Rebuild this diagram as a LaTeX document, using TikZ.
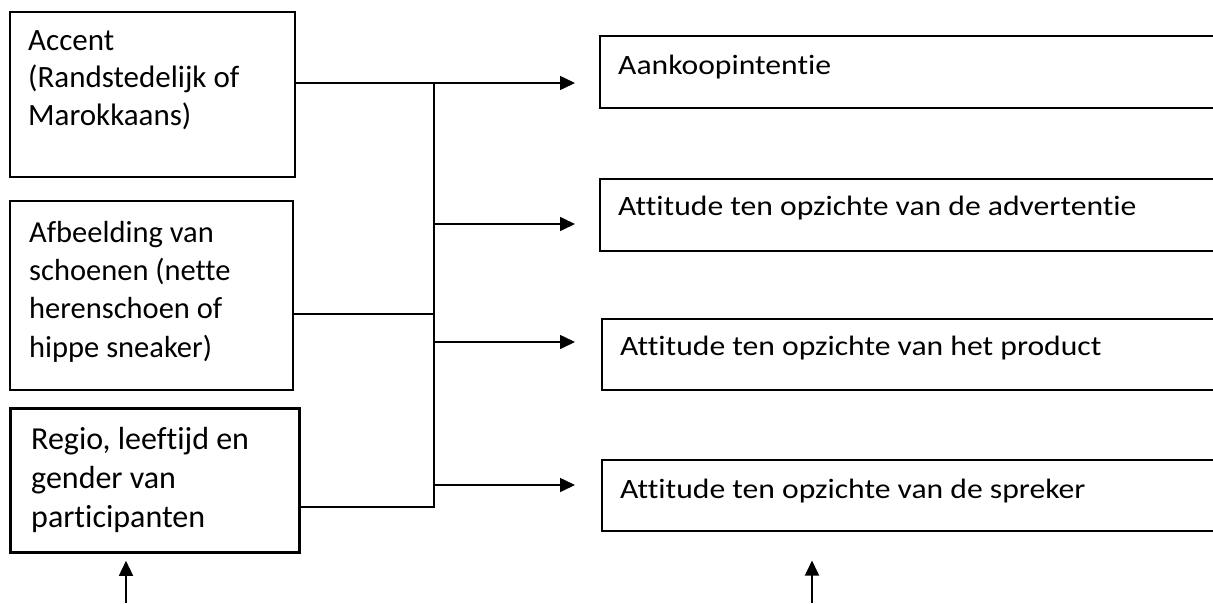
\documentclass[tikz,border=0pt]{standalone}
\usepackage{fontspec}
\setmainfont[Ligatures=NoCommon]{Carlito}
\usetikzlibrary{arrows.meta}
\begin{document}
\begin{tikzpicture}[x=1pt,y=-1pt,
  box/.style={draw, line width=1.5pt, inner sep=0pt, anchor=north west},
  thickbox/.style={box, line width=2.8pt},
  conn/.style={line width=1.6pt},
  arr/.style={conn, -{Triangle[length=15pt,width=14pt]}},
  lefttext/.style={anchor=base west, inner sep=0pt, align=left},
  righttext/.style={anchor=base west, inner sep=0pt, font=\fontsize{28}{32}\selectfont}]
\useasboundingbox (0,0) rectangle (1213,603);
% left boxes
\node[box, minimum width=285pt, minimum height=165pt] (b1) at (9,11) {};
\node[box, minimum width=283pt, minimum height=189pt] (b2) at (9,200) {};
\node[thickbox, minimum width=289pt, minimum height=144pt] (b3) at (9,407) {};
\node[lefttext, font=\fontsize{31}{37.5}\selectfont] (t1) at (28,125) {Accent\\(Randstedelijk of\\Marokkaans)};
\node[lefttext, font=\fontsize{30.5}{38.3}\selectfont] (t2) at (29,357) {Afbeelding van\\schoenen (nette\\herenschoen of\\hippe sneaker)};
\node[lefttext, font=\fontsize{32}{39}\selectfont] (t3) at (31,527) {Regio, leeftijd en\\gender van\\participanten};
% right boxes
\node[box, minimum width=630pt, minimum height=72pt] (rA) at (599,35) {};
\node[box, minimum width=630pt, minimum height=72pt] (rB) at (599,178) {};
\node[box, minimum width=630pt, minimum height=71pt] (rC) at (601,318) {};
\node[box, minimum width=630pt, minimum height=71pt] (rD) at (601,459) {};
\node[righttext] (tA) at (618,74) {\scalebox{1.13}[1]{Aankoopintentie}};
\node[righttext] (tB) at (618,215) {\scalebox{1.13}[1]{Attitude ten opzichte van de advertentie}};
\node[righttext] (tC) at (620,355) {\scalebox{1.13}[1]{Attitude ten opzichte van het product}};
\node[righttext] (tD) at (620,498) {\scalebox{1.13}[1]{Attitude ten opzichte van de spreker}};
% junctions
\coordinate (j1) at (434,83);
\coordinate (j2) at (434,314);
\coordinate (j3) at (434,507);
\coordinate (k2) at (434,224);
\coordinate (k3) at (434,342);
\coordinate (k4) at (434,485);
\coordinate (u1) at (126,603);
\coordinate (u2) at (812,603);
\draw[conn] (b1.east |- j1) -- (j1) -- (j3) -- (b3.east |- j3);
\draw[conn] (b2.east |- j2) -- (j2);
\draw[arr, shorten >=24pt] (j1) -- (rA.west |- j1);
\draw[arr, shorten >=24pt] (k2) -- (rB.west |- k2);
\draw[arr, shorten >=26pt] (k3) -- (rC.west |- k3);
\draw[arr, shorten >=26pt] (k4) -- (rD.west |- k4);
\draw[arr, shorten >=7pt] (u1) -- (b3.south -| u1);
\draw[arr, shorten >=29pt] (u2) -- (rD.south -| u2);
\end{tikzpicture}
\end{document}
